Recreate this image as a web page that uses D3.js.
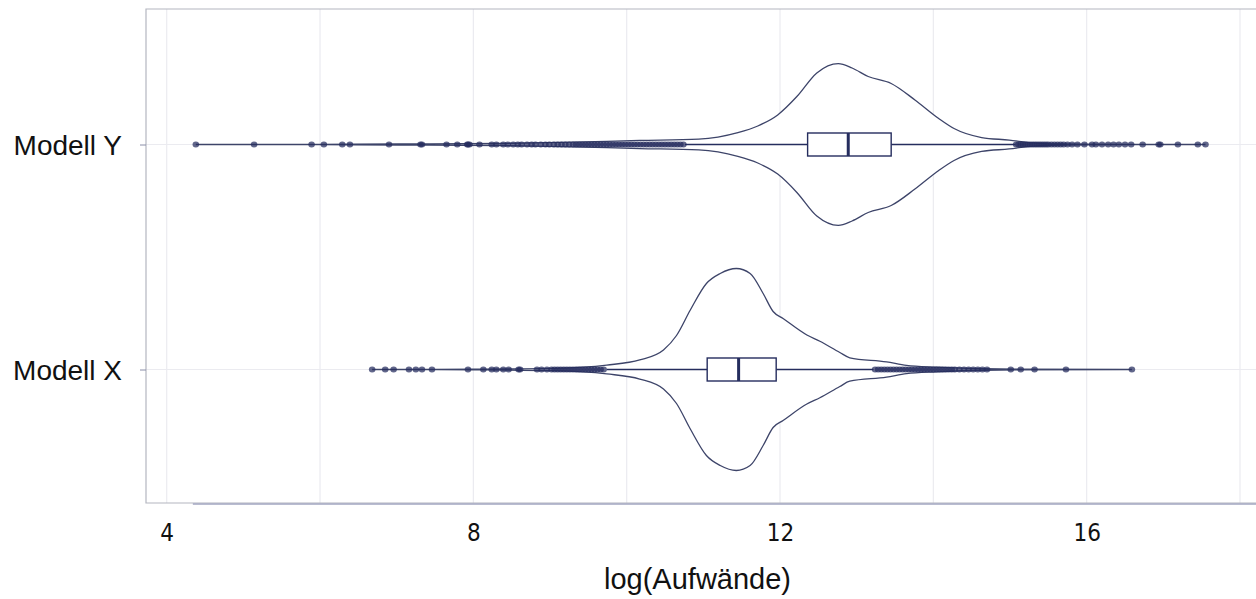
<!DOCTYPE html>
<html><head><meta charset="utf-8">
<script src="https://cdn.jsdelivr.net/npm/d3@7"></script>
<style>body{margin:0;background:#fff}svg{display:block}</style>
</head><body><svg id="c" width="1256" height="599"></svg>
<script>
// ---------- data ----------
const categories = ["Modell Y", "Modell X"];
const gridTicks = [4, 6, 8, 10, 12, 14, 16, 18];
const xTickLabels = [4, 8, 12, 16];
const axisTitle = "log(Aufwände)";

// box stats: [Q1, median, Q3], whiskers: [low, high]
const quartilesY = [12.36, 12.89, 13.45];
const whiskersY = [10.76, 15.07];
const quartilesX = [11.05, 11.46, 11.95];
const whiskersX = [9.74, 13.22];

// kernel density estimates [log value, density]
const densityY = [[4.38,0],[6.0,0.001],[7.04,0.003],[8.35,0.006],[9.13,0.012],[10.17,0.024],[10.94,0.032],[11.45,0.07],[11.71,0.109],[11.97,0.174],[12.22,0.282],[12.48,0.421],[12.76,0.476],[12.94,0.45],[13.15,0.40],[13.45,0.359],[13.76,0.262],[14.07,0.153],[14.27,0.094],[14.63,0.041],[14.99,0.026],[15.30,0.009],[15.65,0.003],[16.5,0.001],[17.55,0]];
const densityX = [[6.68,0],[8.0,0.002],[9.04,0.007],[9.74,0.026],[10.17,0.056],[10.48,0.115],[10.65,0.2],[10.83,0.35],[11.04,0.506],[11.22,0.565],[11.43,0.594],[11.61,0.565],[11.78,0.447],[11.91,0.341],[12.04,0.30],[12.35,0.203],[12.52,0.166],[12.78,0.10],[12.91,0.069],[13.39,0.045],[13.65,0.024],[14.04,0.0135],[14.87,0.003],[16.59,0]];

// outliers
const outliersY = [4.38,5.14,5.89,6.05,6.29,6.39,6.90,7.31,7.33,7.65,7.79,7.92,7.93,7.95,8.08,8.24,8.30,8.39,8.45,8.52,8.58,8.63,8.70,8.76,8.81,8.88,8.94,8.99,9.05,9.10,9.15,9.20,9.25,9.30,9.34,9.38,9.42,9.46,9.50,9.54,9.58,9.62,9.66,9.70,9.74,9.78,9.82,9.86,9.90,9.94,9.98,10.02,10.06,10.10,10.14,10.18,10.22,10.26,10.30,10.34,10.38,10.42,10.46,10.50,10.54,10.58,10.62,10.66,10.70,10.74,
  15.08,15.11,15.14,15.17,15.20,15.23,15.26,15.29,15.32,15.35,15.38,15.41,15.44,15.47,15.50,15.54,15.58,15.62,15.66,15.70,15.75,15.81,15.88,15.97,16.07,16.12,16.20,16.28,16.35,16.42,16.50,16.58,16.73,16.94,16.96,17.19,17.45,17.55];
const outliersX = [6.68,6.85,6.96,7.16,7.25,7.33,7.46,7.93,8.13,8.24,8.30,8.39,8.46,8.59,8.61,8.83,8.89,8.96,9.02,9.06,9.10,9.14,9.18,9.22,9.26,9.30,9.34,9.38,9.42,9.46,9.50,9.54,9.58,9.62,9.66,9.70,
  13.24,13.28,13.32,13.36,13.40,13.44,13.48,13.52,13.56,13.60,13.64,13.68,13.72,13.76,13.80,13.84,13.88,13.92,13.96,14.00,14.04,14.08,14.12,14.16,14.20,14.24,14.28,14.34,14.40,14.46,14.52,14.58,14.64,14.70,15.01,15.14,15.32,15.73,16.59];

// ---------- layout ----------
const plot = {left: 146, right: 1256, top: 9, bottom: 503};
const ink = "#252d5e";

const series = [
  {name: categories[0], q: quartilesY, wk: whiskersY, dens: densityY, out: outliersY},
  {name: categories[1], q: quartilesX, wk: whiskersX, dens: densityX, out: outliersX}
];

const svg = d3.select("#c");
const x = d3.scaleLinear().domain([4, 18]).range([166.7, 1240]);
const y = d3.scalePoint().domain(categories).range([144.5, 369.5]);
const wScale = d3.scaleLinear().domain([0, 1]).range([0, 170]);

// grid
svg.append("g").selectAll("line").data(gridTicks).join("line")
  .attr("x1", d => x(d)).attr("x2", d => x(d))
  .attr("y1", plot.top).attr("y2", plot.bottom)
  .attr("stroke", "#ebebf0").attr("stroke-width", 1.2);
svg.append("g").selectAll("line").data(categories).join("line")
  .attr("x1", plot.left).attr("x2", plot.right)
  .attr("y1", d => y(d)).attr("y2", d => y(d))
  .attr("stroke", "#ebebf0").attr("stroke-width", 1.2);

// frame
svg.append("path")
  .attr("d", `M${plot.right},${plot.top}H${plot.left}V${plot.bottom}H${plot.right}`)
  .attr("fill", "none").attr("stroke", "#b4b6c0").attr("stroke-width", 1.2);
svg.append("line")
  .attr("x1", x(d3.min(outliersY)) - 3).attr("x2", plot.right)
  .attr("y1", plot.bottom + 1).attr("y2", plot.bottom + 1)
  .attr("stroke", "#a2a6c0").attr("stroke-width", 1.5);

// y axis ticks + labels
const yAxis = d3.axisLeft(y).tickSize(6).tickPadding(18);
const gy = svg.append("g").attr("transform", `translate(${plot.left},0)`).call(yAxis);
gy.select(".domain").remove();
gy.selectAll(".tick line").attr("stroke", "#8a8ea8");
gy.selectAll(".tick text")
  .attr("font-family", "Liberation Sans, Arial, sans-serif")
  .attr("font-size", 28).attr("fill", "#111").attr("dy", "0.35em");

// x axis labels
const xAxis = d3.axisBottom(x).tickValues(xTickLabels).tickSize(0).tickPadding(0).tickFormat(d3.format("d"));
const gx = svg.append("g").attr("transform", `translate(0,${plot.bottom})`).call(xAxis);
gx.select(".domain").remove();
gx.selectAll(".tick text")
  .attr("font-family", "'Liberation Sans Narrow', 'DejaVu Sans Condensed', 'Liberation Sans', sans-serif")
  .attr("font-size", 24).attr("fill", "#111").attr("dy", null).attr("y", 38);

// axis title
svg.append("text").attr("x", 697.5).attr("y", 589)
  .attr("text-anchor", "middle")
  .attr("font-family", "Liberation Sans, Arial, sans-serif")
  .attr("font-size", 29).attr("fill", "#111").text(axisTitle);

// violins
const g = svg.append("g");
series.forEach(s => {
  const cy = y(s.name);
  const area = d3.area()
    .x(d => x(d[0]))
    .y0(d => cy + wScale(d[1]))
    .y1(d => cy - wScale(d[1]))
    .curve(d3.curveMonotoneX);
  g.append("path").datum(s.dens).attr("d", area)
    .attr("fill", "#fff").attr("stroke", "#3d4469").attr("stroke-width", 1.3);

  // whiskers
  g.append("line").attr("x1", x(s.wk[0])).attr("x2", x(s.q[0]))
    .attr("y1", cy).attr("y2", cy).attr("stroke", ink).attr("stroke-width", 1.4);
  g.append("line").attr("x1", x(s.q[2])).attr("x2", x(s.wk[1]))
    .attr("y1", cy).attr("y2", cy).attr("stroke", ink).attr("stroke-width", 1.4);
  // box
  g.append("rect").attr("x", x(s.q[0])).attr("y", cy - 11.5)
    .attr("width", x(s.q[2]) - x(s.q[0])).attr("height", 23)
    .attr("fill", "#fff").attr("stroke", ink).attr("stroke-width", 1.4);
  g.append("line").attr("x1", x(s.q[1])).attr("x2", x(s.q[1]))
    .attr("y1", cy - 11.5).attr("y2", cy + 11.5)
    .attr("stroke", ink).attr("stroke-width", 3);

  // outliers
  g.append("g").selectAll("ellipse").data(s.out).join("ellipse")
    .attr("cx", d => x(d)).attr("cy", cy)
    .attr("rx", 3.3).attr("ry", 2.9)
    .attr("fill", ink).attr("fill-opacity", 0.72);
});
</script></body></html>
